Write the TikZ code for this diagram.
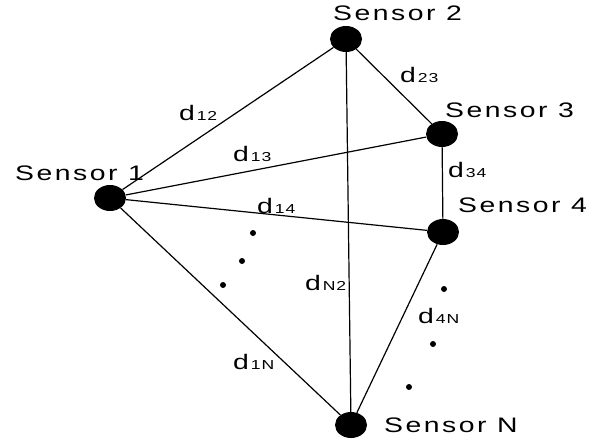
\documentclass[tikz,border=0pt]{standalone}
\usepackage{fontspec}
\setmainfont{Liberation Sans}
\newfontfamily\lblfont[FakeStretch=1.35,LetterSpace=12]{Liberation Sans}
\newfontfamily\dfont[FakeStretch=1.35]{Liberation Sans}
\newfontfamily\subfont[FakeStretch=1.35,LetterSpace=6]{Liberation Sans}
\usetikzlibrary{shapes.geometric}
\newcommand{\dl}[1]{d\hspace{2pt}{\subfont\fontsize{13}{13}\selectfont #1}}
\begin{document}
\begin{tikzpicture}[x=1pt,y=-1pt,
  sensor/.style={ellipse, fill=black, minimum width=32pt, minimum height=26pt, inner sep=0pt},
  sname/.style={anchor=base west, inner sep=0pt, font=\lblfont\fontsize{21}{25}\selectfont},
  dlab/.style={anchor=base west, inner sep=0pt, font=\dfont\fontsize{21}{25}\selectfont},
  dotn/.style={circle, fill=black, minimum size=6pt, inner sep=0pt},
  link/.style={line width=1.2pt}]
\useasboundingbox (0,0) rectangle (607,444);
% sensors
\node[sensor] (s1) at (110,198) {};
\node[sensor] (s2) at (346,39) {};
\node[sensor] (s3) at (442,134) {};
\node[sensor] (s4) at (443,232) {};
\node[sensor] (sN) at (351,425) {};
% edges
\draw[link] (s1) -- (s2);
\draw[link] (s1) -- (s3);
\draw[link] (s1) -- (s4);
\draw[link] (s1) -- (sN);
\draw[link] (s2) -- (s3);
\draw[link] (s2) -- (sN);
\draw[link] (s3) -- (s4);
\draw[link] (s4) -- (sN);
% sensor names
\node[sname] (n1) at (15,180) {Sensor 1};
\node[sname] (n2) at (333,21) {Sensor 2};
\node[sname] (n3) at (445,117) {Sensor 3};
\node[sname] (n4) at (458,212) {Sensor 4};
\node[sname] (nN) at (384,432) {Sensor N};
% distance labels
\node[dlab] (d12) at (179,120) {\dl{12}};
\node[dlab] (d23) at (400,82) {\dl{23}};
\node[dlab] (d13) at (233,161) {\dl{13}};
\node[dlab] (d34) at (448,177) {\dl{34}};
\node[dlab] (d14) at (257,213) {\dl{14}};
\node[dlab] (dN2) at (305,290) {\dl{N2}};
\node[dlab] (d4N) at (418,323) {\dl{4N}};
\node[dlab] (d1N) at (233,369) {\dl{1N}};
% dots
\node[dotn] (p1) at (253,233) {};
\node[dotn] (p2) at (242,261) {};
\node[dotn] (p3) at (223,285) {};
\node[dotn] (q1) at (444,289) {};
\node[dotn] (q2) at (433,344) {};
\node[dotn] (q3) at (409,387) {};
\end{tikzpicture}
\end{document}
